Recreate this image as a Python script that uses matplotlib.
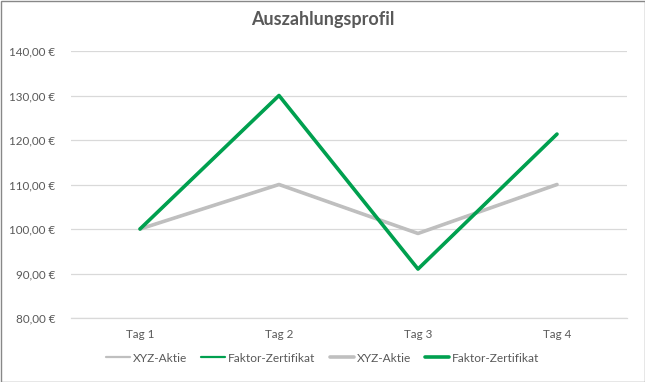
import matplotlib
matplotlib.use("Agg")
import matplotlib.pyplot as plt
from matplotlib.patches import Rectangle

categories = ["Tag 1", "Tag 2", "Tag 3", "Tag 4"]
aktie = [100, 110, 99, 110]
zertifikat = [100, 130, 91, 121.33]
yticks = [80, 90, 100, 110, 120, 130, 140]

plt.rcParams['font.family'] = ['Lato', 'DejaVu Sans']
txt = '#595959'

fig = plt.figure(figsize=(6.45, 3.82), dpi=100)
ax = fig.add_axes([70.5/645, 1-318/382, (626.5-70.5)/645, (318-51)/382])

x = list(range(len(categories)))
ax.plot(x, aktie, color='#BFBFBF', lw=1.6, label='XYZ-Aktie', solid_capstyle='round')
ax.plot(x, zertifikat, color='#00A04F', lw=1.6, label='Faktor-Zertifikat', solid_capstyle='round')
ax.plot(x, aktie, color='#BFBFBF', lw=2.6, label='XYZ-Aktie', solid_capstyle='round', solid_joinstyle='round')
ax.plot(x, zertifikat, color='#00A04F', lw=2.6, label='Faktor-Zertifikat', solid_capstyle='round', solid_joinstyle='round')

ax.set_xlim(-0.5, 3.5)
ax.set_ylim(80, 140)
ax.set_xticks(x)
ax.set_xticklabels(categories)
ax.set_yticks(yticks)
ax.set_yticklabels([f"{v},00 €" for v in yticks])
ax.tick_params(axis='both', length=0, colors=txt, labelsize=8.4)
ax.tick_params(axis='y', pad=11)
ax.tick_params(axis='x', pad=8)
ax.grid(axis='y', color='#D9D9D9', lw=0.9)
ax.set_axisbelow(True)
for s in ['top', 'right', 'left']:
    ax.spines[s].set_visible(False)
ax.spines['bottom'].set_color('#D9D9D9')
ax.spines['bottom'].set_linewidth(0.9)

fig.text(0.5, 1-20/382, "Auszahlungsprofil", ha='center', va='center',
         fontsize=13, fontweight='bold', color=txt)

fig.legend(loc='center', bbox_to_anchor=(0.5, 1-358/382), ncol=4, frameon=False,
           fontsize=8.6, labelcolor=txt, handlelength=2.0, handletextpad=0.25, columnspacing=1.2)

fig.patches.append(Rectangle((0.5/645, 0.5/382), 1-1/645, 1-1/382, transform=fig.transFigure,
                             fill=False, edgecolor='#888888', lw=1))

fig.savefig("out.png", dpi=100)
